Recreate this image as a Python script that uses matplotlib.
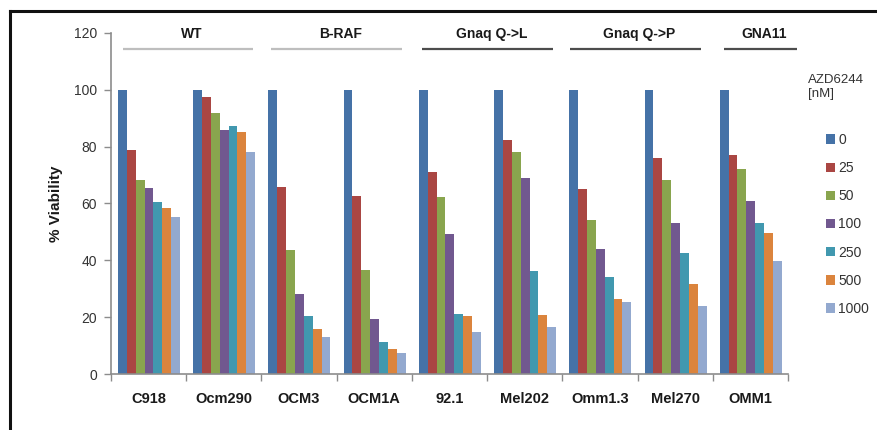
import matplotlib
matplotlib.use("Agg")
import matplotlib.pyplot as plt
from matplotlib.patches import Patch
from matplotlib.lines import Line2D
import numpy as np

plt.rcParams['font.family'] = ['Liberation Sans', 'DejaVu Sans']

# Cell lines along the x axis
cell_lines = ["C918", "Ocm290", "OCM3", "OCM1A", "92.1", "Mel202", "Omm1.3", "Mel270", "OMM1"]

# AZD6244 concentrations (nM)
doses = ["0", "25", "50", "100", "250", "500", "1000"]

# % viability per dose, one value per cell line
v_0 = [100, 100, 100, 100, 100, 100, 100, 100, 100]
v_25 = [78.9, 97.6, 65.9, 62.7, 71.2, 82.2, 65.1, 75.9, 76.9]
v_50 = [68.1, 92.0, 43.7, 36.7, 62.2, 78.2, 54.1, 68.3, 72.1]
v_100 = [65.3, 85.7, 28.3, 19.5, 49.3, 69.0, 44.1, 53.2, 60.9]
v_250 = [60.7, 87.2, 20.3, 11.1, 21.0, 36.4, 34.2, 42.5, 53.0]
v_500 = [58.3, 85.1, 15.7, 8.7, 20.4, 20.9, 26.5, 31.6, 49.5]
v_1000 = [55.4, 78.2, 12.9, 7.3, 14.7, 16.7, 25.4, 24.1, 39.7]
series = [v_0, v_25, v_50, v_100, v_250, v_500, v_1000]

# Mutation groups: label, first and last cell-line index
group_labels = ["WT", "B-RAF", "Gnaq Q->L", "Gnaq Q->P", "GNA11"]
group_first = [0, 2, 4, 6, 8]
group_last = [1, 3, 5, 7, 8]

colors = ["#4572A7", "#AA4643", "#89A54E", "#71588F", "#4198AF", "#DB843D", "#93A9CF"]
group_line_colors = ["#BEBEBE", "#BEBEBE", "#4D4D4D", "#4D4D4D", "#4D4D4D"]
group_line_pad = [(0.16, 0.11), (0.13, 0.13), (0.14, 0.12), (0.10, 0.15), (0.15, -0.12)]

fig = plt.figure(figsize=(8.78, 4.30), dpi=100)
ax = fig.add_axes([0.1264, 0.1302, 0.7711, 0.7931])

n = len(series)
total = 0.825
bw = total / n
x = np.arange(len(cell_lines))
for i, (vals, c, d) in enumerate(zip(series, colors, doses)):
    ax.bar(x - total / 2 + bw * (i + 0.5) + 0.005, vals, width=bw, color=c, label=d, linewidth=0)

ax.set_xlim(-0.5, len(cell_lines) - 0.5)
ax.set_ylim(0, 120)
ax.set_yticks(np.arange(0, 121, 20))
ax.set_xticks(x)
ax.set_xticklabels(cell_lines, fontsize=10.5, fontweight='bold', color='#1a1a1a')
ax.set_xticks(np.arange(-0.5, len(cell_lines)), minor=True)
ax.tick_params(axis='x', which='major', length=0, pad=13)
ax.tick_params(axis='x', which='minor', length=5, width=1, color='#8c8c8c', direction='out')
ax.tick_params(axis='y', length=5, width=1, color='#8c8c8c', direction='out', labelsize=10, labelcolor='#333333', pad=5)
for s in ['top', 'right']:
    ax.spines[s].set_visible(False)
for s in ['left', 'bottom']:
    ax.spines[s].set_color('#8c8c8c')
    ax.spines[s].set_linewidth(1.2)

ax.set_ylabel("% Viability", fontsize=11, fontweight='bold', color='#1a1a1a', labelpad=8)

# Group headers with underline bars above the plot
trans = ax.get_xaxis_transform()
for lab, f, l, lc, (p0, p1) in zip(group_labels, group_first, group_last, group_line_colors, group_line_pad):
    x0 = f - 0.5 + p0
    x1 = l + 0.5 - p1
    ax.plot([x0, x1], [0.953, 0.953], transform=trans, color=lc, lw=1.6, clip_on=False, solid_capstyle='butt')
    ax.text((x0 + x1) / 2 + 0.05, 0.998, lab, transform=trans, ha='center', va='center',
            fontsize=10, fontweight='bold', color='#1a1a1a')

# Legend
fig.text(808 / 878, 1 - 87 / 430, "AZD6244\n[nM]", ha='left', va='center', fontsize=9.5,
         color='#333333', linespacing=1.15)
handles = [Patch(facecolor=c, edgecolor='none') for c in colors]
leg = fig.legend(handles, doses, loc='upper left', bbox_to_anchor=(826 / 878, 1 - 133 / 430),
                 frameon=False, fontsize=10, handlelength=0.65, handleheight=0.65,
                 handletextpad=0.25, labelspacing=1.02, borderpad=0, borderaxespad=0)
for t in leg.get_texts():
    t.set_color('#333333')

# Frame lines along the left and top edges
fig.add_artist(Line2D([10 / 878, 10 / 878], [0, 1 - 11 / 430], transform=fig.transFigure,
                      color='#111111', lw=2.2))
fig.add_artist(Line2D([10 / 878, 1], [1 - 11 / 430, 1 - 11 / 430], transform=fig.transFigure,
                      color='#111111', lw=2.2))

fig.savefig("out.png", dpi=100)
